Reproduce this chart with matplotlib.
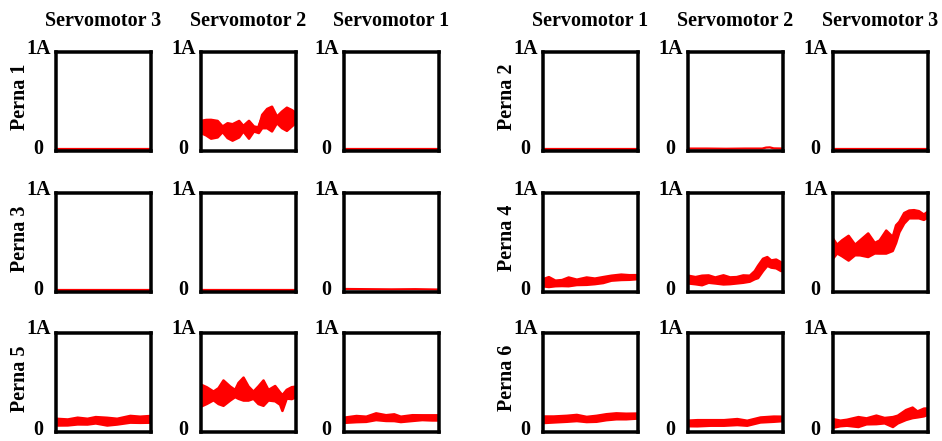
import matplotlib
matplotlib.use("Agg")
import matplotlib.pyplot as plt
import numpy as np

# ---------------- data (current in A, normalised time 0-100 %) ----------------
col_titles = ["Servomotor 3", "Servomotor 2", "Servomotor 1",
              "Servomotor 1", "Servomotor 2", "Servomotor 3"]
row_labels_left = ["Perna 1", "Perna 3", "Perna 5"]
row_labels_right = ["Perna 2", "Perna 4", "Perna 6"]
ytick_labels = ["0", "1A"]

flat_x = [0, 100]
flat_c = [0.022, 0.022]
flat_h = [0.006, 0.006]

p1s2_x = [0, 5.2, 10.3, 17.2, 22.4, 27.6, 32.8, 39.7, 44.1, 50, 55.2, 60.3, 63.8, 69, 74.1, 79.3, 84.5, 89.7, 94.8, 100]
p1s2_c = [0.245, 0.238, 0.222, 0.223, 0.222, 0.208, 0.19, 0.223, 0.228, 0.217, 0.225, 0.212, 0.30, 0.33, 0.325, 0.317, 0.317, 0.323, 0.333, 0.338]
p1s2_h = [0.062, 0.078, 0.095, 0.083, 0.028, 0.075, 0.083, 0.083, 0.028, 0.09, 0.025, 0.028, 0.067, 0.097, 0.125, 0.033, 0.083, 0.117, 0.083, 0.045]

p2s2_x = [0, 20, 40, 60, 78, 82, 86, 90, 100]
p2s2_c = [0.022, 0.022, 0.020, 0.022, 0.022, 0.032, 0.034, 0.024, 0.022]
p2s2_h = [0.006, 0.006, 0.006, 0.006, 0.006, 0.010, 0.010, 0.006, 0.006]

p3s1_x = [0, 25, 50, 75, 100]
p3s1_c = [0.028, 0.026, 0.024, 0.026, 0.022]
p3s1_h = [0.010, 0.009, 0.008, 0.009, 0.007]

p4s1_x = [0, 5.9, 12.8, 19.7, 26.6, 35.2, 45.5, 54.1, 62.8, 71.4, 81.7, 90.3, 100]
p4s1_c = [0.096, 0.103, 0.089, 0.093, 0.105, 0.100, 0.112, 0.110, 0.123, 0.142, 0.151, 0.149, 0.153]
p4s1_h = [0.036, 0.050, 0.028, 0.030, 0.044, 0.027, 0.037, 0.028, 0.030, 0.025, 0.027, 0.023, 0.020]

p4s2_x = [0, 7.6, 14.5, 21.4, 28.3, 36.9, 43.8, 50.7, 57.6, 64.5, 69.7, 73.1, 78.3, 82.8, 86.9, 92.1, 97.2, 100]
p4s2_c = [0.128, 0.117, 0.119, 0.133, 0.119, 0.125, 0.116, 0.121, 0.133, 0.137, 0.173, 0.205, 0.276, 0.311, 0.285, 0.286, 0.258, 0.258]
p4s2_h = [0.039, 0.036, 0.048, 0.037, 0.030, 0.046, 0.034, 0.032, 0.037, 0.030, 0.041, 0.062, 0.062, 0.044, 0.036, 0.044, 0.044, 0.027]

p4s3_x = [0, 4.1, 9.2, 16.1, 22.9, 28.1, 36.6, 43.5, 48.6, 55.5, 62.3, 65.8, 69.2, 74.3, 79.5, 84.6, 89.7, 94.9, 100]
p4s3_c = [0.44, 0.436, 0.444, 0.445, 0.427, 0.448, 0.475, 0.445, 0.457, 0.507, 0.488, 0.587, 0.658, 0.747, 0.786, 0.788, 0.783, 0.758, 0.79]
p4s3_h = [0.098, 0.044, 0.080, 0.125, 0.053, 0.075, 0.119, 0.053, 0.066, 0.116, 0.071, 0.089, 0.053, 0.053, 0.039, 0.041, 0.036, 0.027, 0.030]

p5s3_x = [0, 12.1, 22.4, 32.8, 41.4, 53.4, 63.8, 77.6, 87.9, 100]
p5s3_c = [0.102, 0.099, 0.113, 0.107, 0.121, 0.107, 0.107, 0.131, 0.126, 0.131]
p5s3_h = [0.034, 0.030, 0.034, 0.029, 0.032, 0.039, 0.029, 0.034, 0.031, 0.034]

p5s2_x = [0, 5.9, 12.9, 18.1, 23.3, 30.3, 35.5, 39.0, 44.3, 49.5, 54.7, 59.9, 65.2, 70.4, 77.4, 82.6, 85.0, 89.5, 94.8, 100]
p5s2_c = [0.37, 0.37, 0.367, 0.365, 0.395, 0.391, 0.391, 0.418, 0.436, 0.391, 0.374, 0.374, 0.395, 0.374, 0.39, 0.34, 0.295, 0.384, 0.395, 0.409]
p5s2_h = [0.11, 0.084, 0.044, 0.08, 0.128, 0.071, 0.036, 0.08, 0.116, 0.071, 0.036, 0.089, 0.128, 0.053, 0.077, 0.062, 0.08, 0.044, 0.06, 0.053]

p5s1_x = [0, 12.8, 23.1, 33.4, 43.8, 52.4, 59.3, 71.4, 81.7, 92.1, 100]
p5s1_c = [0.121, 0.133, 0.131, 0.157, 0.143, 0.147, 0.130, 0.143, 0.147, 0.145, 0.145]
p5s1_h = [0.026, 0.031, 0.026, 0.034, 0.029, 0.034, 0.027, 0.029, 0.024, 0.026, 0.026]

p6s1_x = [0, 11.0, 24.8, 35.2, 45.5, 55.9, 66.2, 76.6, 86.9, 100]
p6s1_c = [0.126, 0.129, 0.136, 0.144, 0.129, 0.136, 0.152, 0.161, 0.159, 0.164]
p6s1_h = [0.033, 0.030, 0.030, 0.031, 0.026, 0.030, 0.030, 0.030, 0.028, 0.025]

p6s2_x = [0, 9.7, 23.6, 37.5, 51.4, 61.8, 75.7, 89.6, 100]
p6s2_c = [0.089, 0.091, 0.094, 0.094, 0.103, 0.091, 0.124, 0.132, 0.135]
p6s2_h = [0.028, 0.031, 0.028, 0.028, 0.030, 0.025, 0.025, 0.026, 0.022]

p6s3_x = [0, 7.5, 14.4, 26.4, 34.9, 45.2, 53.8, 62.5, 67.6, 76.2, 83.1, 88.2, 95.1, 100]
p6s3_c = [0.089, 0.089, 0.096, 0.103, 0.110, 0.125, 0.117, 0.103, 0.128, 0.174, 0.196, 0.180, 0.200, 0.210]
p6s3_h = [0.043, 0.028, 0.030, 0.050, 0.030, 0.043, 0.027, 0.050, 0.039, 0.050, 0.053, 0.030, 0.039, 0.030]

# grid[row][col] -> (x, centre, half-thickness)
grid = [
    [(flat_x, flat_c, flat_h), (p1s2_x, p1s2_c, p1s2_h), (flat_x, flat_c, flat_h),
     (flat_x, flat_c, flat_h), (p2s2_x, p2s2_c, p2s2_h), (flat_x, flat_c, flat_h)],
    [(flat_x, flat_c, flat_h), (flat_x, flat_c, flat_h), (p3s1_x, p3s1_c, p3s1_h),
     (p4s1_x, p4s1_c, p4s1_h), (p4s2_x, p4s2_c, p4s2_h), (p4s3_x, p4s3_c, p4s3_h)],
    [(p5s3_x, p5s3_c, p5s3_h), (p5s2_x, p5s2_c, p5s2_h), (p5s1_x, p5s1_c, p5s1_h),
     (p6s1_x, p6s1_c, p6s1_h), (p6s2_x, p6s2_c, p6s2_h), (p6s3_x, p6s3_c, p6s3_h)],
]

# ---------------- layout ----------------
W, H = 942, 441
fig = plt.figure(figsize=(W / 100, H / 100), dpi=100)
FONT = dict(family="Liberation Serif", weight="bold", size=14.5)

col_left = [54, 199, 342, 541, 686, 831]   # outer frame left edge (px)
row_top = [50, 191, 331]                    # outer frame top edge (px)
ow, oh = 99, 102.5
spw = 3.5  # spine width px
RED = "#ff0000"

for r in range(3):
    for c in range(6):
        L = col_left[c] + spw / 2
        T = row_top[r] + spw / 2
        w = ow - spw
        h = oh - spw
        ax = fig.add_axes([L / W, 1 - (T + h) / H, w / W, h / H])
        x, cc, hh = grid[r][c]
        x = np.asarray(x, float)
        cc = np.asarray(cc, float)
        hh = np.asarray(hh, float)
        thin = hh.max() < 0.015
        if thin:
            ax.plot(x, cc, color=RED, lw=1.6, zorder=1, solid_joinstyle="round")
        else:
            ax.fill_between(x, cc - hh, cc + hh, facecolor=RED, edgecolor=RED,
                            lw=1.8, joinstyle="round", zorder=1)
            ax.plot(x, cc, color=RED, lw=3.2, zorder=1,
                    solid_joinstyle="round", solid_capstyle="butt")
        ax.set_xlim(0, 100)
        ax.set_ylim(0, 1)
        ax.set_xticks([])
        ax.set_yticks([])
        for s in ax.spines.values():
            s.set_linewidth(spw * 72 / 100)
            s.set_color("black")
            s.set_zorder(3)
        # tick labels
        tx = (col_left[c] - 15.5) / W
        fig.text(tx, 1 - (row_top[r] + 3.5) / H, ytick_labels[1], ha="center",
                 va="baseline", **FONT)
        fig.text(tx, 1 - (row_top[r] + oh + 1.5) / H, ytick_labels[0], ha="center",
                 va="baseline", **FONT)
        if r == 0:
            fig.text((col_left[c] + ow / 2) / W, 1 - 26 / H, col_titles[c],
                     ha="center", va="baseline", **FONT)
        if c in (0, 3):
            lab = row_labels_left[r] if c == 0 else row_labels_right[r]
            fig.text((col_left[c] - 29) / W, 1 - (row_top[r] + oh / 2 - 4) / H, lab,
                     rotation=90, rotation_mode="anchor", ha="center",
                     va="baseline", **FONT)

fig.savefig("out.png", dpi=100)
